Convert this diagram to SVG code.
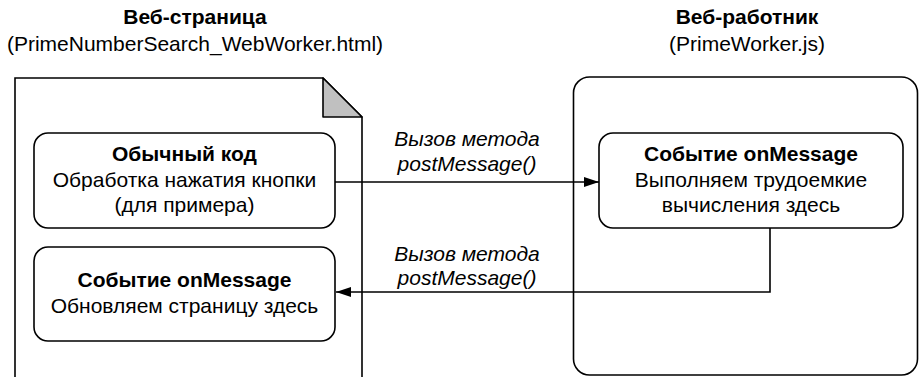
<svg xmlns="http://www.w3.org/2000/svg" width="919" height="377" viewBox="0 0 919 377">
<style>
text{font-family:"Liberation Sans",Arial,sans-serif;font-size:21px;fill:#000;text-anchor:middle}
.b{font-weight:bold}
.i{font-style:italic}
.shape{fill:#fff;stroke:#000;stroke-width:1.6}
.conn{fill:none;stroke:#000;stroke-width:1.6}
</style>
<defs>
<marker id="arr" markerWidth="16" markerHeight="10" refX="15" refY="5" orient="auto" markerUnits="userSpaceOnUse">
<path d="M0,0 L15,5 L0,10 Z" fill="#000"/>
</marker>
</defs>
<g id="page">
<path class="shape" d="M15,78 H323 L362,117 V385 H15 Z"/>
<path d="M323,78 V117 H362 Z" fill="#c0c0c0" stroke="#000" stroke-width="1.6" stroke-linejoin="round"/>
<text class="b" x="195" y="24">Веб-страница</text>
<text x="195" y="51">(PrimeNumberSearch_WebWorker.html)</text>
</g>
<g id="worker">
<rect class="shape" x="573.5" y="77" width="344" height="298" rx="16"/>
<text class="b" x="747" y="24">Веб-работник</text>
<text x="747" y="51">(PrimeWorker.js)</text>
</g>
<g id="normal-code">
<rect class="shape" x="34" y="133" width="301" height="95" rx="14"/>
<text class="b" x="184.5" y="161">Обычный код</text>
<text x="184.5" y="187">Обработка нажатия кнопки</text>
<text x="184.5" y="212">(для примера)</text>
</g>
<g id="page-onmessage">
<rect class="shape" x="34" y="247" width="301" height="94" rx="14"/>
<text class="b" x="184.5" y="287">Событие onMessage</text>
<text x="184.5" y="313">Обновляем страницу здесь</text>
</g>
<g id="worker-onmessage">
<rect class="shape" x="599" y="133" width="304" height="95" rx="14"/>
<text class="b" x="751" y="161">Событие onMessage</text>
<text x="751" y="187">Выполняем трудоемкие</text>
<text x="751" y="212">вычисления здесь</text>
</g>
<g id="connectors">
<path class="conn" d="M335,182 H599" marker-end="url(#arr)"/>
<path class="conn" d="M770,228 V292 H336" marker-end="url(#arr)"/>
<text class="i" x="467" y="146">Вызов метода</text>
<text class="i" x="467" y="171">postMessage()</text>
<text class="i" x="467" y="261">Вызов метода</text>
<text class="i" x="467" y="285">postMessage()</text>
</g>
</svg>
